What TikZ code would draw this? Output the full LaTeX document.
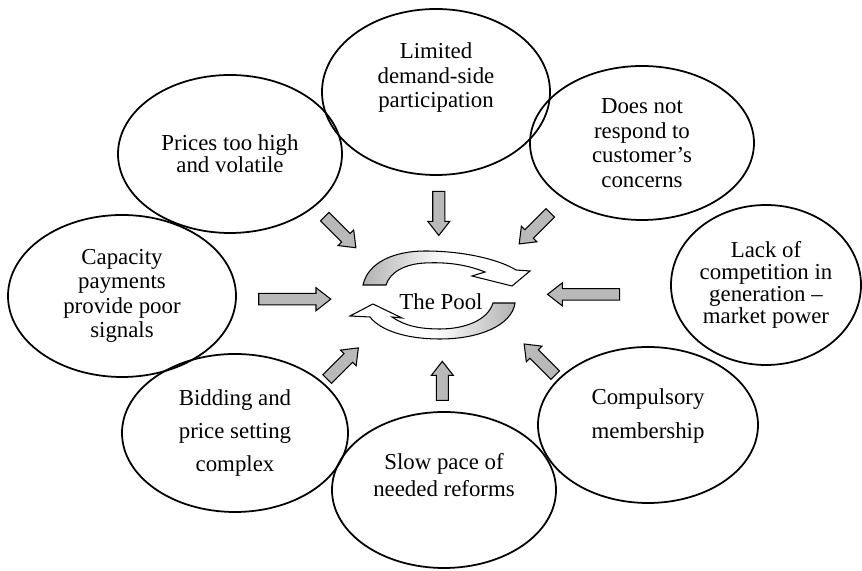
\documentclass[tikz,border=0pt]{standalone}
\usepackage{fontspec}
\setmainfont{Liberation Serif}
\usetikzlibrary{shapes.geometric,shapes.arrows,calc}

\tikzset{
    bubble/.style={ellipse, draw, line width=1pt, align=center, inner sep=0pt,
        font=\fontsize{13}{14}\selectfont},
    push/.style={single arrow, draw, semithick, fill=gray!55, inner sep=1.1mm,
        minimum width=4.2mm, minimum height=8.8mm,
        single arrow head extend=1mm, single arrow tip angle=76},
    longpush/.style={push, inner sep=1.05mm, minimum width=4.4mm,
        minimum height=14.4mm, single arrow head extend=1.15mm},
}

\begin{document}
\begin{tikzpicture}[x=0.2mm,y=0.2mm]
    \useasboundingbox (0,0) rectangle (862,571);

    \node[bubble, minimum width=44.8mm, minimum height=31.6mm] (prices) at (230,417) {Prices too high\\[-1.5pt]and volatile};
    \node[bubble, minimum width=45.6mm, minimum height=33.2mm, text depth=19pt] (limited) at (436,479) {Limited\\demand-side\\participation};
    \node[bubble, minimum width=44.8mm, minimum height=30.8mm] (respond) at (642,428) {Does not\\respond to\\customer's\\concerns};
    \node[bubble, minimum width=45.6mm, minimum height=32.4mm] (capacity) at (122,275) {Capacity\\payments\\provide poor\\signals};
    \node[bubble, minimum width=38mm, minimum height=32mm] (lack) at (766,286) {Lack of\\[-1.5pt]competition in\\[-1.5pt]generation --\\[-1.5pt]market power};
    \node[bubble, minimum width=45.2mm, minimum height=31.6mm] (bidding) at (235,138) {Bidding and\\[5pt]price setting\\[5pt]complex};
    \node[bubble, minimum width=44.8mm, minimum height=31.2mm, text depth=17pt] (slow) at (444,81) {Slow pace of\\[1.5pt]needed reforms};
    \node[bubble, minimum width=44mm, minimum height=31.2mm, text depth=13pt] (compulsory) at (648,146) {Compulsory\\[5pt]membership};

    % the two curved arrows going round the pool
    \draw[semithick, left color=gray!60, right color=white, middle color=white]
        (386,286) -- (363,286) .. controls (368,309) and (395,320) .. (425,320)
        .. controls (465,320) and (500,311) .. (516,301) -- (530,300) -- (512,285)
        -- (472,295) -- (485,299) .. controls (465,307) and (445,309) .. (425,308)
        .. controls (405,307) and (390,299) .. (386,286) -- cycle;
    \draw[semithick, right color=gray!60, left color=white, middle color=white]
        (493,268) -- (515,268) .. controls (512,246) and (480,232) .. (440,232)
        .. controls (405,232) and (380,241) .. (370,254) -- (350,255) -- (373,267)
        -- (402,253) -- (392,254) .. controls (405,245) and (420,242) .. (440,242)
        .. controls (465,242) and (488,251) .. (493,268) -- cycle;

    \node[font=\fontsize{13}{14}\selectfont] (pool) at (441,269) {The Pool};

    \node[push, rotate=-45] (a1) at ($(prices)!0.51!(pool)$) {};
    \node[push, rotate=-90] (a2) at ($(limited)!0.56!(pool)$) {};
    \node[push, rotate=-135] (a3) at ($(respond)!0.52!(pool)$) {};
    \node[longpush] (a4) at ($(capacity)!0.53!(pool)$) {};
    \node[longpush, rotate=180] (a5) at ($(lack)!0.55!(pool)$) {};
    \node[push, rotate=45] (a6) at ($(bidding)!0.51!(pool)$) {};
    \node[push, rotate=90, minimum height=7.8mm] (a7) at ($(slow)!0.56!(pool)$) {};
    \node[push, rotate=135] (a8) at ($(compulsory)!0.51!(pool)$) {};

\end{tikzpicture}
\end{document}
